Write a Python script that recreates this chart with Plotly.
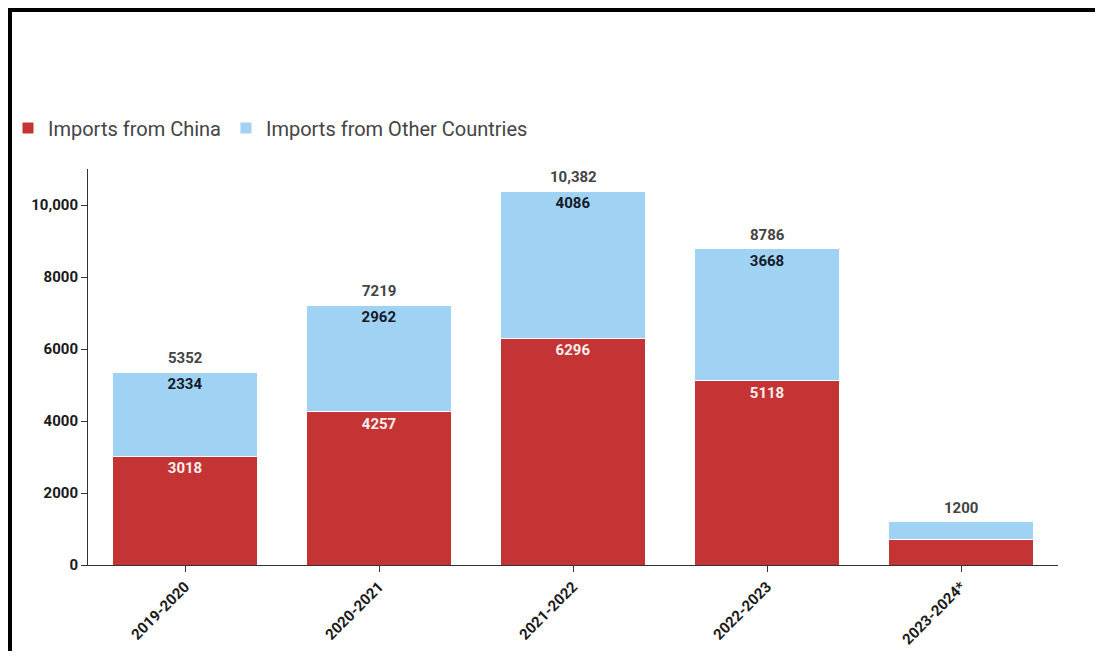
import plotly.graph_objects as go

categories = ["2019-2020", "2020-2021", "2021-2022", "2022-2023", "2023-2024*"]
china = [3018, 4257, 6296, 5118, 720]
others = [2334, 2962, 4086, 3668, 480]
show_segment_labels = [True, True, True, True, False]
y_tick_vals = [0, 2000, 4000, 6000, 8000, 10000]
y_tick_text = ["0", "2000", "4000", "6000", "8000", "10,000"]

RED = "#c53434"
BLUE = "#a0d3f3"
FONT = "Roboto, 'Open Sans', sans-serif"

W, H = 1087, 643          # page body margin of 8px brings this to 1103x659
L, R, T, B = 80, 37, 161, 86
PW, PH = W - L - R, H - T - B


def fmt(v):
    return f"{v:,}" if v >= 10000 else str(v)


totals = [c + o for c, o in zip(china, others)]
china_text = [fmt(v) if s else "" for v, s in zip(china, show_segment_labels)]
others_text = [fmt(v) if s else "" for v, s in zip(others, show_segment_labels)]

fig = go.Figure()
fig.add_trace(go.Bar(
    name="Imports from China", x=categories, y=china,
    marker=dict(color=RED, line=dict(color="white", width=1)),
    text=china_text, textposition="inside", insidetextanchor="end",
    textangle=0,
    insidetextfont=dict(family=FONT, size=15, color="#f7eeee", weight="bold"),
    hoverinfo="skip",
))
fig.add_trace(go.Bar(
    name="Imports from Other Countries", x=categories, y=others,
    marker=dict(color=BLUE, line=dict(color="white", width=1)),
    text=others_text, textposition="inside", insidetextanchor="end",
    textangle=0,
    insidetextfont=dict(family=FONT, size=15, color="#141a2a", weight="bold"),
    hoverinfo="skip",
))

annotations = [
    dict(x=c, y=t, xref="x", yref="y", text=fmt(t), showarrow=False,
         yanchor="bottom", yshift=3,
         font=dict(family=FONT, size=15, color="#444444", weight="bold"))
    for c, t in zip(categories, totals)
]


def px_x(p):
    return (p - L) / PW


def px_y(p):
    return (H - B - p) / PH


shapes = [
    dict(type="rect", xref="paper", yref="paper",
         x0=px_x(-2), x1=px_x(4), y0=px_y(H + 20), y1=px_y(-2),
         fillcolor="black", line=dict(width=0), layer="above"),
    dict(type="rect", xref="paper", yref="paper",
         x0=px_x(-2), x1=px_x(W + 20), y0=px_y(4), y1=px_y(-2),
         fillcolor="black", line=dict(width=0), layer="above"),
]

fig.update_layout(
    barmode="stack",
    bargap=0.25,
    width=W, height=H,
    margin=dict(l=L, r=R, t=T, b=B, pad=0, autoexpand=False),
    paper_bgcolor="white", plot_bgcolor="white",
    font=dict(family=FONT, color="#333333"),
    shapes=shapes,
    annotations=annotations,
    showlegend=True,
    legend=dict(
        orientation="h", xref="container", yref="container",
        x=-2 / W, y=(H - 120) / H, xanchor="left", yanchor="middle",
        bgcolor="rgba(0,0,0,0)",
        font=dict(family=FONT, size=20, color="#444444"),
        itemclick=False, itemdoubleclick=False,
        traceorder="normal",
    ),
    xaxis=dict(
        range=[-0.5, 4.5], showline=True, linecolor="#333333", linewidth=1,
        ticks="outside", ticklen=6, tickcolor="#333333", tickangle=-45,
        tickfont=dict(family=FONT, size=15, color="#1a1a1a", weight="bold"),
        showgrid=False, zeroline=False, fixedrange=True, automargin=False,
    ),
    yaxis=dict(
        range=[0, 11000], showline=True, linecolor="#333333", linewidth=1,
        ticks="outside", ticklen=6, tickcolor="#333333",
        tickvals=y_tick_vals, ticktext=y_tick_text,
        tickfont=dict(family=FONT, size=15, color="#1a1a1a", weight="bold"),
        showgrid=False, zeroline=False, fixedrange=True, automargin=False,
    ),
)

fig.write_html("out.html")
